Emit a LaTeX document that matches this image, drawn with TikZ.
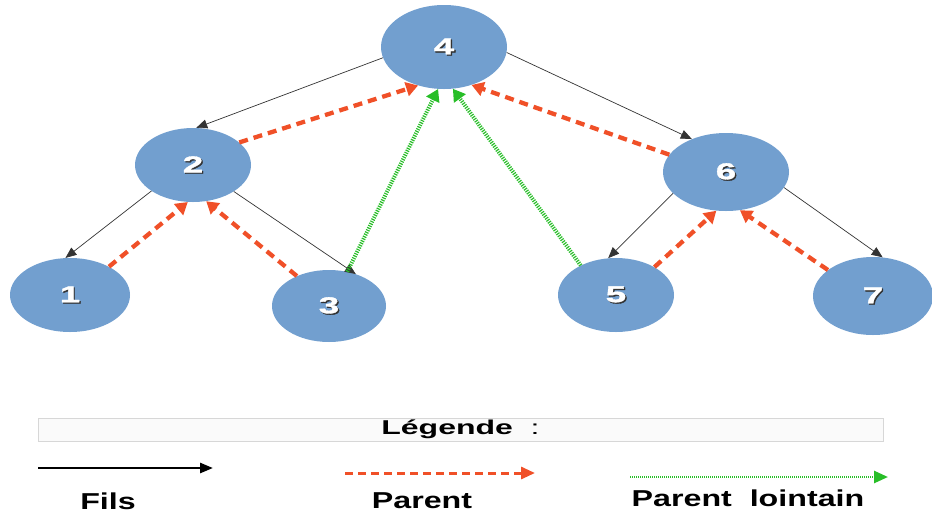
\documentclass[tikz,border=0pt]{standalone}
\usepackage{fontspec}
\setmainfont{Liberation Sans}
\newfontfamily\widenum{Liberation Sans}[FakeStretch=1.6,FakeBold=1.5]
\newfontfamily\widelab{Liberation Sans}[FakeStretch=1.4]
\newfontfamily\widehead{Liberation Sans}[FakeStretch=1.6]
\usetikzlibrary{shapes.geometric,arrows.meta}
\definecolor{nodeblue}{RGB}{114,159,207}
\definecolor{parentred}{RGB}{240,80,40}
\definecolor{farGreen}{RGB}{40,190,40}
\definecolor{legfill}{RGB}{250,250,250}
\definecolor{legline}{RGB}{215,215,215}
\newcommand{\numtxt}[1]{\rlap{\hspace{1.3pt}\raisebox{-1.3pt}{\color{black!80}#1}}\color{white}#1}
\tikzset{
  treenode/.style={ellipse, fill=nodeblue, inner sep=0pt, font=\widenum\bfseries\fontsize{23}{27}\selectfont},
  filsedge/.style={draw=black!80, line width=0.7pt, -{Triangle[length=11pt,width=9pt]}},
  parentedge/.style={draw=parentred, line width=4.3pt, dash pattern=on 9pt off 6pt, -{Triangle[length=12pt,width=14pt]}},
  faredge/.style={draw=farGreen, line width=4pt, dash pattern=on 1.2pt off 1.2pt, -{Triangle[length=12pt,width=14pt]}},
  legtext/.style={font=\widelab\bfseries\fontsize{23}{27}\selectfont},
}
\begin{document}
\begin{tikzpicture}[x=1pt,y=-1pt]
\useasboundingbox (0,0) rectangle (932,515);
% nodes
\node[treenode, minimum width=126pt, minimum height=84pt] (n4) at (444,47) {\numtxt{4}};
\node[treenode, minimum width=116pt, minimum height=74pt] (n2) at (193,165) {\numtxt{2}};
\node[treenode, minimum width=126pt, minimum height=78pt] (n6) at (726,172) {\numtxt{6}};
\node[treenode, minimum width=120pt, minimum height=74pt] (n1) at (70,295) {\numtxt{1}};
\node[treenode, minimum width=114pt, minimum height=72pt] (n3) at (329,306) {\numtxt{3}};
\node[treenode, minimum width=116pt, minimum height=74pt] (n5) at (616,295) {\numtxt{5}};
\node[treenode, minimum width=120pt, minimum height=78pt] (n7) at (873,296) {\numtxt{7}};
% Fils edges
\draw[filsedge] (n4.190) -- (n2.85);
\draw[filsedge] (n4.355) -- (n6.136);
\draw[filsedge] (n2.212) -- (n1.97);
\draw[filsedge] (n2.327) -- (n3.50);
\draw[filsedge] (n6.202) -- (n5.102);
\draw[filsedge] (n6.345) -- (n7.76);
% Parent edges
\draw[parentedge] (n2.26) -- (n4.236);
\draw[parentedge] (n6.163) -- (n4.306);
\draw[parentedge] (n1.36) -- (n2.262);
\draw[parentedge] (n3.137) -- (n2.290);
\draw[parentedge] (n5.36) -- (n6.256);
\draw[parentedge] (n7.150) -- (n6.290);
% Parent lointain edges
\draw[faredge] (n3.62) -- (n4.262);
\draw[faredge] (n5.140) -- (n4.282);
% legend
\node[draw=legline, fill=legfill, line width=0.8pt, minimum width=845pt, minimum height=23pt, inner sep=0pt,
      font=\widehead\bfseries\fontsize{20}{24}\selectfont] (leg) at (460.5,429.5) {Légende\ \ {\mdseries:}};
\coordinate (fa) at (38,468); \coordinate (fb) at (213,468);
\coordinate (pa) at (345,473); \coordinate (pb) at (535,473);
\coordinate (ga) at (630,477); \coordinate (gb) at (888,477);
\draw[draw=black, line width=2.6pt, -{Triangle[length=13pt,width=10pt]}] (fa) -- (fb);
\draw[draw=parentred, line width=3pt, dash pattern=on 8pt off 5pt, -{Triangle[length=14pt,width=12pt]}] (pa) -- (pb);
\draw[draw=farGreen, line width=2.6pt, dash pattern=on 1pt off 1pt, -{Triangle[length=14pt,width=12pt]}] (ga) -- (gb);
\node[legtext] (lf) at (108,501) {Fils};
\node[legtext] (lp) at (422,501) {Parent};
\node[legtext] (ll) at (748,498) {Parent\ \ lointain};
\end{tikzpicture}
\end{document}
